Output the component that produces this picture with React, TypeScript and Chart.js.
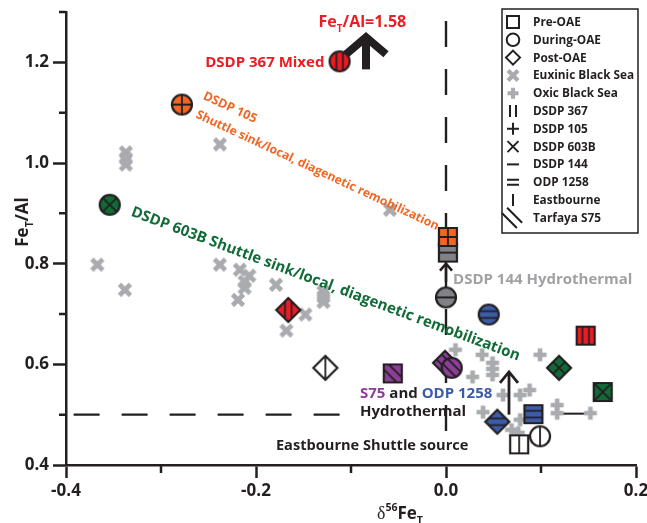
import React, { useEffect, useRef } from 'react';
import { Chart, registerables } from 'chart.js';

Chart.register(...registerables);

// ---------------- data ----------------
const xMajorTicks = [-0.4, -0.2, 0.0, 0.2];
const xTickLabels = ['-0.4', '-0.2', '0.0', '0.2'];
const xMinorTicks = [-0.3, -0.1, 0.1];
const yMajorTicks = [0.4, 0.6, 0.8, 1.0, 1.2];
const yTickLabels = ['0.4', '0.6', '0.8', '1.0', '1.2'];
const yMinorTicks = [0.5, 0.7, 0.9, 1.1, 1.3];

// [δ56FeT, FeT/Al]
const euxinicBlackSea: [number, number][] = [
  [-0.367, 0.798], [-0.337, 1.021], [-0.337, 1.009], [-0.337, 0.997], [-0.338, 0.748],
  [-0.238, 1.037], [-0.238, 0.798], [-0.217, 0.788], [-0.207, 0.776], [-0.212, 0.764],
  [-0.212, 0.752], [-0.219, 0.728], [-0.179, 0.758], [-0.129, 0.744], [-0.129, 0.734],
  [-0.129, 0.724], [-0.148, 0.699], [-0.168, 0.667], [-0.059, 0.907],
];
const oxicBlackSea: [number, number][] = [
  [0.010, 0.629], [0.038, 0.619], [0.099, 0.619], [0.049, 0.603], [0.049, 0.591], [0.049, 0.579],
  [0.028, 0.575], [0.060, 0.539], [0.078, 0.539], [0.088, 0.549], [0.039, 0.505],
  [0.078, 0.490], [0.069, 0.470], [0.076, 0.464], [0.117, 0.519], [0.117, 0.503], [0.152, 0.503],
];

// [δ56FeT, FeT/Al, stage]
type Stage = 'pre' | 'during' | 'post';
const dsdp105: [number, number, Stage][] = [[0.002, 0.853, 'pre'], [-0.278, 1.116, 'during']];
const dsdp144: [number, number, Stage][] = [[0.002, 0.822, 'pre'], [0.000, 0.733, 'during']];
const dsdp367: [number, number, Stage][] = [[0.147, 0.657, 'pre'], [-0.112, 1.202, 'during'], [-0.166, 0.708, 'post']];
const dsdp603b: [number, number, Stage][] = [[0.165, 0.545, 'pre'], [-0.354, 0.917, 'during'], [0.119, 0.593, 'post']];
const odp1258: [number, number, Stage][] = [[0.092, 0.501, 'pre'], [0.045, 0.699, 'during'], [0.054, 0.486, 'post']];
const eastbourne: [number, number, Stage][] = [[0.077, 0.441, 'pre'], [0.099, 0.457, 'during'], [-0.127, 0.593, 'post']];
const tarfayaS75: [number, number, Stage][] = [[-0.056, 0.582, 'pre'], [-0.001, 0.603, 'post'], [0.006, 0.593, 'during']];

const legendLabels = [
  'Pre-OAE', 'During-OAE', 'Post-OAE', 'Euxinic Black Sea', 'Oxic Black Sea', 'DSDP 367',
  'DSDP 105', 'DSDP 603B', 'DSDP 144', 'ODP 1258', 'Eastbourne', 'Tarfaya S75',
];

// ---------------- styles ----------------
const INK = '#231f20';
const FONT = "'Open Sans', 'Noto Sans', sans-serif";
const SERIF = "'Liberation Serif', 'DejaVu Serif', serif";
const RED = '#ed1c24';
const ORANGE = '#f26522';
const GREEN = '#116b37';
const GRAY144 = '#808285';
const BLUE = '#3c5ca8';
const PURPLE = '#8c3f98';
const LIGHT = '#a9abae';

type Pattern = 'vv' | 'plus' | 'x' | 'minus' | 'eq' | 'v' | 'bs';
type Shape = 'square' | 'circle' | 'diamond';
const stageShape: Record<Stage, Shape> = { pre: 'square', during: 'circle', post: 'diamond' };

function shapePath(g: CanvasRenderingContext2D, shape: Shape, cx: number, cy: number) {
  g.beginPath();
  if (shape === 'square') g.rect(cx - 9, cy - 9, 18, 18);
  else if (shape === 'circle') g.arc(cx, cy, 10, 0, Math.PI * 2);
  else {
    g.moveTo(cx, cy - 12); g.lineTo(cx + 12, cy); g.lineTo(cx, cy + 12); g.lineTo(cx - 12, cy); g.closePath();
  }
}

function patternLines(g: CanvasRenderingContext2D, p: Pattern, cx: number, cy: number, h: number, o: number) {
  const L = (x1: number, y1: number, x2: number, y2: number) => { g.moveTo(x1, y1); g.lineTo(x2, y2); };
  g.beginPath();
  if (p === 'vv') { L(cx - o, cy - h, cx - o, cy + h); L(cx + o, cy - h, cx + o, cy + h); }
  else if (p === 'plus') { L(cx, cy - h, cx, cy + h); L(cx - h, cy, cx + h, cy); }
  else if (p === 'x') { L(cx - h, cy - h, cx + h, cy + h); L(cx + h, cy - h, cx - h, cy + h); }
  else if (p === 'minus') { L(cx - h, cy, cx + h, cy); }
  else if (p === 'eq') { L(cx - h, cy - o, cx + h, cy - o); L(cx - h, cy + o, cx + h, cy + o); }
  else if (p === 'v') { L(cx, cy - h, cx, cy + h); }
  else if (p === 'bs') {
    const d = o * 0.75;
    L(cx - h + d, cy - h - d, cx + h + d, cy + h - d);
    L(cx - h - d, cy - h + d, cx + h - d, cy + h + d);
  }
  g.stroke();
}

function makeMarker(shape: Shape, fill: string, pattern: Pattern): HTMLCanvasElement {
  const S = 30;
  const c = document.createElement('canvas');
  c.width = S; c.height = S;
  const g = c.getContext('2d')!;
  const cx = S / 2, cy = S / 2;
  shapePath(g, shape, cx, cy);
  g.fillStyle = fill; g.fill();
  g.save();
  shapePath(g, shape, cx, cy); g.clip();
  g.strokeStyle = INK; g.lineWidth = 1.8;
  patternLines(g, pattern, cx, cy, 14, 3.3);
  g.restore();
  shapePath(g, shape, cx, cy);
  g.strokeStyle = INK; g.lineWidth = 2.2; g.lineJoin = 'miter'; g.stroke();
  return c;
}

function makeGrayMarker(kind: 'x' | 'plus'): HTMLCanvasElement {
  const c = document.createElement('canvas');
  c.width = 18; c.height = 18;
  const g = c.getContext('2d')!;
  g.strokeStyle = LIGHT; g.lineWidth = 4.6; g.lineCap = 'butt';
  g.beginPath();
  if (kind === 'x') { g.moveTo(3.5, 3.5); g.lineTo(14.5, 14.5); g.moveTo(14.5, 3.5); g.lineTo(3.5, 14.5); }
  else { g.moveTo(9, 2.5); g.lineTo(9, 15.5); g.moveTo(2.5, 9); g.lineTo(15.5, 9); }
  g.stroke();
  return c;
}

// ---------------- annotations (in data units) ----------------
type Seg = { t: string; c?: string; sub?: boolean; sup?: boolean; serif?: boolean };
const textNotes: { segs: Seg[]; x: number; y: number; size: number; color: string; align: 'left' | 'right' | 'center'; angle: number }[] = [
  { segs: [{ t: 'Fe' }, { t: 'T', sub: true }, { t: '/Al=1.58' }], x: -0.088, y: 1.281, size: 16, color: RED, align: 'center', angle: 0 },
  { segs: [{ t: 'DSDP 367 Mixed' }], x: -0.128, y: 1.202, size: 15, color: RED, align: 'right', angle: 0 },
  { segs: [{ t: 'DSDP 105' }], x: -0.2547, y: 1.136, size: 12.5, color: ORANGE, align: 'left', angle: 25 },
  { segs: [{ t: 'Shuttle sink/local, diagenetic remobilization' }], x: -0.2621, y: 1.0985, size: 12.1, color: ORANGE, align: 'left', angle: 25 },
  { segs: [{ t: 'DSDP 603B Shuttle sink/local, diagenetic remobilization' }], x: -0.3305, y: 0.9055, size: 15, color: GREEN, align: 'left', angle: 20.5 },
  { segs: [{ t: 'DSDP 144 Hydrothermal' }], x: 0.0074, y: 0.770, size: 15, color: '#a0a1a4', align: 'left', angle: 0 },
  { segs: [{ t: 'S75', c: PURPLE }, { t: ' and ' }, { t: 'ODP 1258', c: BLUE }], x: -0.0905, y: 0.5433, size: 15, color: INK, align: 'left', angle: 0 },
  { segs: [{ t: 'Hydrothermal' }], x: -0.0905, y: 0.5075, size: 15, color: INK, align: 'left', angle: 0 },
  { segs: [{ t: 'Eastbourne Shuttle source' }], x: -0.179, y: 0.4398, size: 14.6, color: INK, align: 'left', angle: 0 },
];
const arrows = [
  { x: -0.0842, y0: 1.186, y1: 1.2498, head: 20, headLen: 17, lw: 8 },
  { x: 0.0, y0: 0.764, y1: 0.80, head: 6, headLen: 7, lw: 2.5 },
  { x: 0.0663, y0: 0.50, y1: 0.585, head: 9, headLen: 11, lw: 2.8 },
];
const dashedLines = [
  { x0: 0.0, y0: 1.282, x1: 0.0, y1: 0.464 },
  { x0: -0.392, y0: 0.5, x1: -0.112, y1: 0.5 },
];
const solidSegments = [{ x0: 0.118, y0: 0.502, x1: 0.146, y1: 0.502 }];

function drawRich(ctx: CanvasRenderingContext2D, segs: Seg[], x: number, y: number, size: number, color: string, align: string, angle: number) {
  const fontOf = (s: Seg) => {
    const sz = s.sub || s.sup ? size * 0.62 : size;
    return s.serif ? `normal ${size * 1.05}px ${SERIF}` : `bold ${sz}px ${FONT}`;
  };
  ctx.save();
  ctx.translate(x, y);
  ctx.rotate((angle * Math.PI) / 180);
  ctx.textBaseline = 'alphabetic';
  ctx.textAlign = 'left';
  const widths = segs.map((s) => { ctx.font = fontOf(s); return ctx.measureText(s.t).width; });
  const total = widths.reduce((a, b) => a + b, 0);
  let cx = align === 'left' ? 0 : align === 'right' ? -total : -total / 2;
  const base = size * 0.36;
  segs.forEach((s, i) => {
    ctx.font = fontOf(s);
    ctx.fillStyle = s.c || color;
    const dy = s.sub ? size * 0.3 : s.sup ? -size * 0.45 : 0;
    ctx.fillText(s.t, cx, base + dy);
    cx += widths[i];
  });
  ctx.restore();
}

function drawLegendSymbol(g: CanvasRenderingContext2D, i: number, cx: number, cy: number) {
  g.save();
  g.strokeStyle = INK; g.lineWidth = 2;
  g.beginPath();
  if (i === 0) { g.rect(cx - 6, cy - 6, 12, 12); g.stroke(); }
  else if (i === 1) { g.arc(cx, cy, 6.3, 0, Math.PI * 2); g.stroke(); }
  else if (i === 2) { g.moveTo(cx, cy - 7); g.lineTo(cx + 7, cy); g.lineTo(cx, cy + 7); g.lineTo(cx - 7, cy); g.closePath(); g.stroke(); }
  else if (i === 3) { g.strokeStyle = LIGHT; g.lineWidth = 4.2; g.moveTo(cx - 5, cy - 5); g.lineTo(cx + 5, cy + 5); g.moveTo(cx + 5, cy - 5); g.lineTo(cx - 5, cy + 5); g.stroke(); }
  else if (i === 4) { g.strokeStyle = LIGHT; g.lineWidth = 4; g.moveTo(cx, cy - 5.5); g.lineTo(cx, cy + 5.5); g.moveTo(cx - 5.5, cy); g.lineTo(cx + 5.5, cy); g.stroke(); }
  else if (i === 5) patternLines(g, 'vv', cx, cy, 6, 3);
  else if (i === 6) patternLines(g, 'plus', cx, cy, 6, 3);
  else if (i === 7) patternLines(g, 'x', cx, cy, 5.5, 3);
  else if (i === 8) patternLines(g, 'minus', cx, cy, 6, 3);
  else if (i === 9) patternLines(g, 'eq', cx, cy, 6, 2.5);
  else if (i === 10) patternLines(g, 'v', cx, cy, 6, 3);
  else if (i === 11) patternLines(g, 'bs', cx - 1, cy, 7.5, 3.5);
  g.restore();
}

const isIn = (arr: number[], v: number) => arr.findIndex((m) => Math.abs(m - v) < 1e-9);

const annotationPlugin = {
  id: 'annotations',
  beforeDatasetsDraw(chart: any) {
    const { ctx, scales: { x, y } } = chart;
    ctx.save();
    ctx.strokeStyle = INK; ctx.lineCap = 'butt';
    // minor ticks
    ctx.lineWidth = 2.5;
    ctx.beginPath();
    yMinorTicks.forEach((v) => { const py = y.getPixelForValue(v); ctx.moveTo(x.left - 7, py); ctx.lineTo(x.left, py); });
    xMinorTicks.forEach((v) => { const px = x.getPixelForValue(v); ctx.moveTo(px, y.bottom); ctx.lineTo(px, y.bottom + 8); });
    ctx.stroke();
    // dashed reference lines
    ctx.lineWidth = 2.4;
    ctx.setLineDash([26, 22]);
    dashedLines.forEach((l) => {
      ctx.beginPath();
      ctx.moveTo(x.getPixelForValue(l.x0), y.getPixelForValue(l.y0));
      ctx.lineTo(x.getPixelForValue(l.x1), y.getPixelForValue(l.y1));
      ctx.stroke();
    });
    ctx.setLineDash([]);
    ctx.lineWidth = 2;
    solidSegments.forEach((l) => {
      ctx.beginPath();
      ctx.moveTo(x.getPixelForValue(l.x0), y.getPixelForValue(l.y0));
      ctx.lineTo(x.getPixelForValue(l.x1), y.getPixelForValue(l.y1));
      ctx.stroke();
    });
    ctx.restore();
  },
  afterDatasetsDraw(chart: any) {
    const { ctx, scales: { x, y } } = chart;
    ctx.save();
    ctx.strokeStyle = INK; ctx.lineJoin = 'miter'; ctx.lineCap = 'butt';
    arrows.forEach((a) => {
      const px = x.getPixelForValue(a.x);
      const pb = y.getPixelForValue(a.y0);
      const pt = y.getPixelForValue(a.y1);
      ctx.lineWidth = a.lw;
      ctx.beginPath();
      ctx.moveTo(px, pb); ctx.lineTo(px, pt + a.lw * 0.5);
      ctx.stroke();
      ctx.beginPath();
      ctx.moveTo(px - a.head, pt + a.headLen); ctx.lineTo(px, pt); ctx.lineTo(px + a.head, pt + a.headLen);
      ctx.stroke();
    });
    textNotes.forEach((n) => {
      drawRich(ctx, n.segs, x.getPixelForValue(n.x), y.getPixelForValue(n.y), n.size, n.color, n.align, n.angle);
    });
    ctx.restore();
  },
  afterDraw(chart: any) {
    const { ctx, chartArea } = chart;
    ctx.save();
    // axis titles
    drawRich(ctx, [{ t: 'δ', serif: true }, { t: '56', sup: true }, { t: 'Fe' }, { t: 'T', sub: true }],
      chartArea.left + 334, chartArea.bottom + 48, 17, INK, 'center', 0);
    drawRich(ctx, [{ t: 'Fe' }, { t: 'T', sub: true }, { t: '/Al' }],
      chartArea.left - 44, chartArea.top + 210, 17, INK, 'center', -90);
    // legend
    const bx = chartArea.right - 134, by = chartArea.top - 3;
    ctx.lineWidth = 1.5; ctx.strokeStyle = INK;
    ctx.strokeRect(bx, by, 136, 224);
    ctx.font = `bold 12.2px ${FONT}`;
    ctx.fillStyle = INK; ctx.textBaseline = 'middle'; ctx.textAlign = 'left';
    legendLabels.forEach((lab, i) => {
      const cy = by + 13 + i * 17.8;
      drawLegendSymbol(ctx, i, bx + 11, cy);
      ctx.save();
      ctx.translate(bx + 31, cy + 0.5);
      ctx.scale(0.97, 1);
      ctx.fillText(lab, 0, 0);
      ctx.restore();
    });
    ctx.restore();
  },
};

export default function App() {
  const ref = useRef<HTMLCanvasElement>(null);
  useEffect(() => {
    document.body.style.margin = '0';
    const canvas = ref.current!;
    const sites: { pts: [number, number, Stage][]; fill: string; pattern: Pattern }[] = [
      { pts: dsdp105, fill: ORANGE, pattern: 'plus' },
      { pts: dsdp144, fill: GRAY144, pattern: 'minus' },
      { pts: tarfayaS75, fill: PURPLE, pattern: 'bs' },
      { pts: dsdp367, fill: RED, pattern: 'vv' },
      { pts: dsdp603b, fill: GREEN, pattern: 'x' },
      { pts: odp1258, fill: BLUE, pattern: 'eq' },
      { pts: eastbourne, fill: '#ffffff', pattern: 'v' },
    ];
    const datasets: any[] = sites.map((s) => ({
      data: s.pts.map((p) => ({ x: p[0], y: p[1] })),
      pointStyle: s.pts.map((p) => makeMarker(stageShape[p[2]], s.fill, s.pattern)),
      pointRadius: 10,
    }));
    const xImg = makeGrayMarker('x');
    const pImg = makeGrayMarker('plus');
    datasets.push({ data: oxicBlackSea.map((p) => ({ x: p[0], y: p[1] })), pointStyle: pImg, pointRadius: 8 });
    datasets.push({ data: euxinicBlackSea.map((p) => ({ x: p[0], y: p[1] })), pointStyle: xImg, pointRadius: 8 });

    const tickColor = (majors: number[]) => (c: any) =>
      c.tick && isIn(majors, c.tick.value) >= 0 ? INK : 'rgba(0,0,0,0)';

    const chart = new Chart(canvas, {
      type: 'scatter',
      data: { datasets },
      options: {
        responsive: false,
        animation: false,
        events: [],
        layout: { padding: { top: 12, right: 11, left: 0, bottom: 0 } },
        plugins: { legend: { display: false }, tooltip: { enabled: false } },
        scales: {
          x: {
            type: 'linear', min: -0.4, max: 0.2,
            afterBuildTicks: (s: any) => { s.ticks = [...xMajorTicks, ...xMinorTicks].sort((a, b) => a - b).map((v) => ({ value: v })); },
            afterFit: (s: any) => { s.height = 58; s.paddingLeft = 0; s.paddingRight = 0; },
            ticks: {
              autoSkip: false, maxRotation: 0, padding: 3, color: INK,
              font: { family: FONT, size: 17, weight: 'bold' },
              callback: (v: any) => { const i = isIn(xMajorTicks, Number(v)); return i >= 0 ? xTickLabels[i] : ''; },
            },
            grid: { drawOnChartArea: false, drawTicks: true, tickLength: 13, tickWidth: 2.5, tickColor: tickColor(xMajorTicks) },
            border: { display: true, width: 2.5, color: INK },
          },
          y: {
            type: 'linear', min: 0.4, max: 1.3,
            afterBuildTicks: (s: any) => { s.ticks = [...yMajorTicks, ...yMinorTicks].sort((a, b) => a - b).map((v) => ({ value: v })); },
            afterFit: (s: any) => { s.width = 66; s.paddingTop = 0; s.paddingBottom = 0; },
            ticks: {
              autoSkip: false, padding: 4, color: INK,
              font: { family: FONT, size: 17, weight: 'bold' },
              callback: (v: any) => { const i = isIn(yMajorTicks, Number(v)); return i >= 0 ? yTickLabels[i] : ''; },
            },
            grid: { drawOnChartArea: false, drawTicks: true, tickLength: 13, tickWidth: 2.5, tickColor: tickColor(yMajorTicks) },
            border: { display: true, width: 2.5, color: INK },
          },
        },
      } as any,
      plugins: [annotationPlugin],
    });
    return () => chart.destroy();
  }, []);
  return (
    <div style={{ position: 'absolute', left: 0, top: 0, width: 647, height: 523 }}>
      <canvas ref={ref} width={647} height={523} style={{ display: 'block' }} />
    </div>
  );
}
